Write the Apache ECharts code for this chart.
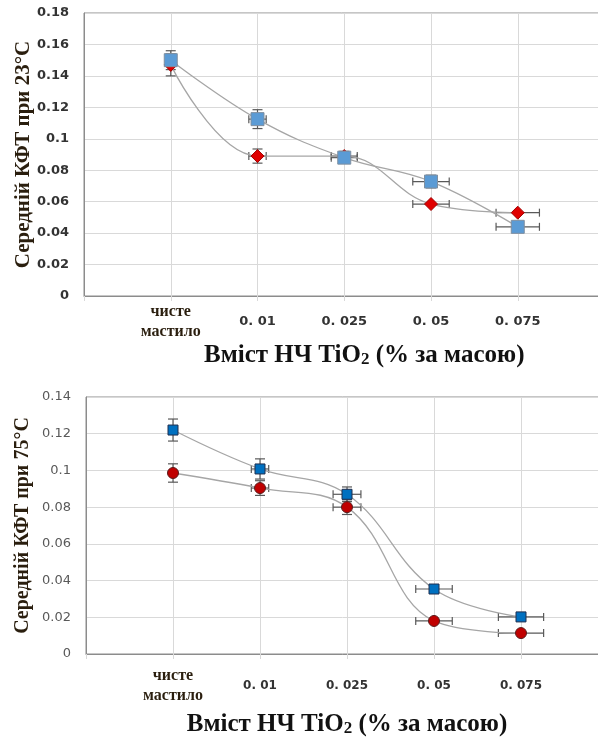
<!DOCTYPE html>
<html>
<head>
<meta charset="utf-8">
<script src="https://cdn.jsdelivr.net/npm/echarts@6/dist/echarts.min.js"></script>
<style>
  html, body { margin: 0; padding: 0; background: #fff; }
  #chart { width: 598px; height: 738px; }
</style>
</head>
<body>
<div id="chart"></div>
<script>
// x positions 1..5, 0 and 6 are the empty plot edges
var xLabels = ["", "чисте\nмастило", "0. 01", "0. 025", "0. 05", "0. 075", ""];
var xPos = [1, 2, 3, 4, 5];

// 23°C
var topRed = [0.147, 0.089, 0.089, 0.0585, 0.053];
var topBlue = [0.150, 0.1125, 0.088, 0.0728, 0.044];
var topRedErrY = [0.007, 0.0045, 0.003, 0, 0];
var topBlueErrY = [0.006, 0.006, 0.002, 0.004, 0];
var topErrX = [0, 0.1, 0.15, 0.21, 0.25];

// 75°C
var botRed = [0.0986, 0.0904, 0.080, 0.018, 0.0114];
var botBlue = [0.122, 0.1008, 0.087, 0.0354, 0.0202];
var botRedErrY = [0.005, 0.004, 0.004, 0, 0];
var botBlueErrY = [0.006, 0.0055, 0.004, 0, 0];
var botErrX = [0, 0.1, 0.16, 0.21, 0.26];

var topYTicks = { min: 0, max: 0.18, interval: 0.02 };
var botYTicks = { min: 0, max: 0.14, interval: 0.02 };

var nameColor = "#2a1e0e";

function pts(vals) {
  return vals.map(function (v, i) { return [xPos[i], v]; });
}
function errPts(vals, ex, ey) {
  return vals.map(function (v, i) { return [xPos[i], v, ex[i], ey[i]]; });
}

function renderErr(params, api) {
  var x = api.value(0), y = api.value(1), ex = api.value(2), ey = api.value(3);
  var st = { stroke: "#595959", lineWidth: 1.2 };
  var kids = [];
  if (ey > 0) {
    var t = api.coord([x, y + ey]), b = api.coord([x, y - ey]);
    kids.push({ type: "line", shape: { x1: t[0], y1: t[1], x2: b[0], y2: b[1] }, style: st });
    kids.push({ type: "line", shape: { x1: t[0] - 5, y1: t[1], x2: t[0] + 5, y2: t[1] }, style: st });
    kids.push({ type: "line", shape: { x1: b[0] - 5, y1: b[1], x2: b[0] + 5, y2: b[1] }, style: st });
  }
  if (ex > 0) {
    var l = api.coord([x - ex, y]), r = api.coord([x + ex, y]);
    kids.push({ type: "line", shape: { x1: l[0], y1: l[1], x2: r[0], y2: r[1] }, style: st });
    kids.push({ type: "line", shape: { x1: l[0], y1: l[1] - 4, x2: l[0], y2: l[1] + 4 }, style: st });
    kids.push({ type: "line", shape: { x1: r[0], y1: r[1] - 4, x2: r[0], y2: r[1] + 4 }, style: st });
  }
  return { type: "group", children: kids };
}

function xAxisFor(idx, opts) {
  return {
    type: "value",
    gridIndex: idx,
    min: 0,
    max: 6,
    interval: 1,
    axisLine: { lineStyle: { color: "#8c8c8c" } },
    axisTick: { show: true, length: 5, lineStyle: { color: "#d9d9d9" } },
    splitLine: { lineStyle: { color: "#d9d9d9" } },
    axisLabel: {
      margin: opts.labelMargin,
      verticalAlign: "middle",
      formatter: function (v) {
        return v === 1 ? "{s|" + "чисте" + "}\n{s|" + "мастило" + "}" : xLabels[v];
      },
      color: "#333",
      fontFamily: "DejaVu Sans",
      fontWeight: "bold",
      fontSize: opts.labelSize,
      rich: {
        s: {
          fontFamily: "Liberation Serif",
          fontWeight: "bold",
          fontSize: 16,
          lineHeight: 20,
          color: nameColor
        }
      }
    },
    name: "{a|Вміст НЧ TiO}{b|2}{a| (% за масою)}",
    nameLocation: "middle",
    nameGap: opts.nameGap,
    nameMoveOverlap: false,
    nameTextStyle: {
      padding: opts.namePad,
      rich: {
        a: { fontFamily: "Liberation Serif", fontWeight: "bold", fontSize: 25, color: "#111" },
        b: { fontFamily: "Liberation Serif", fontWeight: "bold", fontSize: 17, color: "#111", padding: [8, 0, 0, 0] }
      }
    }
  };
}

function yAxisFor(idx, ticks, opts) {
  return {
    type: "value",
    gridIndex: idx,
    min: ticks.min,
    max: ticks.max,
    interval: ticks.interval,
    axisLine: { show: true, lineStyle: { color: "#8c8c8c" } },
    axisTick: { show: false },
    splitLine: { lineStyle: { color: "#d9d9d9" } },
    axisLabel: {
      margin: 15,
      color: opts.labelColor,
      fontFamily: "DejaVu Sans",
      fontWeight: opts.labelWeight,
      fontSize: 13,
      formatter: function (v) { return String(+v.toFixed(2)); }
    },
    name: opts.name,
    nameLocation: "middle",
    nameGap: opts.nameGap,
    nameMoveOverlap: false,
    nameTextStyle: {
      fontFamily: "Liberation Serif",
      fontWeight: "bold",
      fontSize: opts.nameSize,
      color: nameColor
    }
  };
}

function lineSeries(idx, data, sym, size, fill, border) {
  return {
    type: "line",
    xAxisIndex: idx,
    yAxisIndex: idx,
    data: pts(data),
    smooth: 0.4,
    symbol: sym,
    symbolSize: size,
    z: 4,
    lineStyle: { color: "#a6a6a6", width: 1.3 },
    itemStyle: { color: fill, borderColor: border, borderWidth: 1 }
  };
}

function errSeries(idx, vals, ex, ey) {
  return {
    type: "custom",
    xAxisIndex: idx,
    yAxisIndex: idx,
    z: 3,
    encode: { x: 0, y: 1 },
    data: errPts(vals, ex, ey),
    renderItem: renderErr
  };
}

var chart = echarts.init(document.getElementById("chart"));
chart.setOption({
  animation: false,
  grid: [
    { left: 84, top: 13, width: 520.5, height: 283, outerBoundsMode: "none", containLabel: false,
      show: true, borderColor: "#8c8c8c", borderWidth: 1 },
    { left: 86, top: 397, width: 522, height: 257, outerBoundsMode: "none", containLabel: false,
      show: true, borderColor: "#8c8c8c", borderWidth: 1 }
  ],
  xAxis: [
    xAxisFor(0, { labelMargin: 26, labelSize: 13, nameGap: 47, namePad: [0, 0, 0, 40] }),
    xAxisFor(1, { labelMargin: 32, labelSize: 12, nameGap: 58, namePad: [0, 0, 0, 0] })
  ],
  yAxis: [
    yAxisFor(0, topYTicks, { labelColor: "#333", labelWeight: "bold", name: "Середній КФТ при 23°С", nameGap: 50, nameSize: 21 }),
    yAxisFor(1, botYTicks, { labelColor: "#595959", labelWeight: "normal", name: "Середній КФТ при 75°С", nameGap: 53, nameSize: 20 })
  ],
  series: [
    errSeries(0, topRed, topErrX, topRedErrY),
    errSeries(0, topBlue, topErrX, topBlueErrY),
    lineSeries(0, topRed, "diamond", 13, "#e00000", "#a00000"),
    lineSeries(0, topBlue, "rect", 13, "#5b9bd5", "#7f8fa0"),
    errSeries(1, botRed, botErrX, botRedErrY),
    errSeries(1, botBlue, botErrX, botBlueErrY),
    lineSeries(1, botRed, "circle", 11, "#c00000", "#5a1a1a"),
    lineSeries(1, botBlue, "rect", 10, "#0070c0", "#1f2f4f")
  ]
});
</script>
</body>
</html>
